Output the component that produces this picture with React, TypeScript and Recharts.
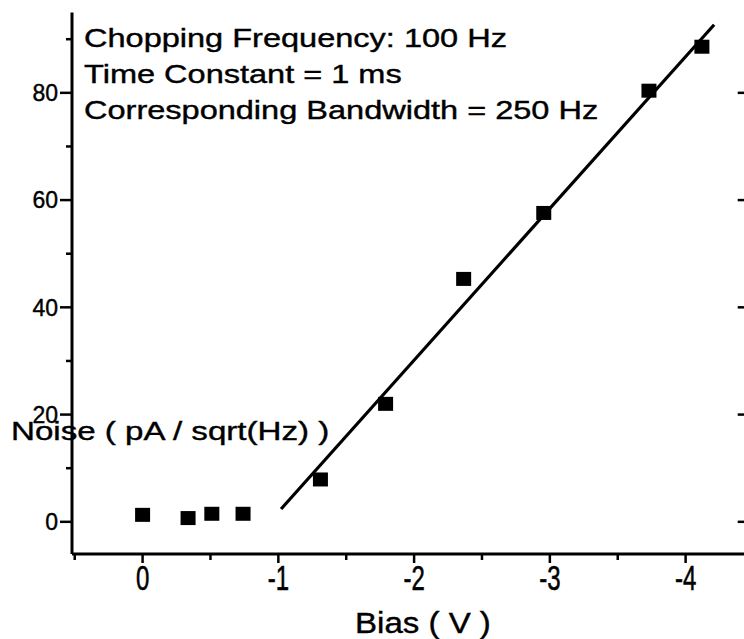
import React from "react";
import { ComposedChart, Scatter, XAxis, YAxis } from "recharts";

// measured points (bias in V, noise in pA/sqrt(Hz))
const bias = [0, -0.335, -0.51, -0.74, -1.31, -1.79, -2.365, -2.955, -3.73, -4.12];
const noise = [1.3, 0.7, 1.5, 1.5, 7.9, 22.0, 45.3, 57.6, 80.4, 88.6];

// linear fit end points
const fitBias = [-1.02, -4.21];
const fitNoise = [2.4, 92.7];

const xMajor = [0, -1, -2, -3, -4];
const xMinor = [0.5, -0.5, -1.5, -2.5, -3.5];
const yMajor = [0, 20, 40, 60, 80];
const yMinor = [10, 30, 50, 70, 90];

const notes = [
  "Chopping Frequency: 100 Hz",
  "Time Constant = 1 ms",
  "Corresponding Bandwidth = 250 Hz",
];
const xTitle = "Bias ( V )";
const yTitle = "Noise ( pA / sqrt(Hz) )";

const FONT = '"Liberation Sans", Arial, Helvetica, sans-serif';
const INK = "#000";

const points = bias.map((b, i) => ({ x: b, y: noise[i] }));
const fit = fitBias.map((b, i) => ({ x: b, y: fitNoise[i] }));

// scanned print looks heavier than a plain regular face
const heavy = { stroke: INK, strokeWidth: 0.4 };

function YTick({ x, y, payload }: any) {
  const major = yMajor.includes(payload.value);
  return (
    <g>
      <line x1={x - (major ? 12 : 6)} x2={x} y1={y} y2={y} stroke={INK} strokeWidth={2.5} />
      {major && (
        <text x={x - 14} y={y + 8.2} textAnchor="end" fontSize={23} fontFamily={FONT} fill={INK} {...heavy}>
          {String(payload.value)}
        </text>
      )}
    </g>
  );
}

function XTick({ x, y, payload }: any) {
  const major = xMajor.includes(payload.value);
  return (
    <g>
      <line x1={x} x2={x} y1={y} y2={y + (major ? 9 : 6)} stroke={INK} strokeWidth={2.5} />
      {major && (
        <text
          transform={`translate(${x},${y + 36}) scale(1,1.45)`}
          textAnchor="middle"
          fontSize={24}
          fontFamily={FONT}
          fill={INK}
          {...heavy}
        >
          {String(payload.value)}
        </text>
      )}
    </g>
  );
}

function Square({ cx, cy }: any) {
  return <rect x={cx - 7.5} y={cy - 7} width={15} height={14} fill={INK} />;
}

export default function App() {
  return (
    <div
      style={{
        position: "absolute",
        left: 0,
        top: 0,
        width: 744,
        height: 639,
        overflow: "hidden",
        background: "#fff",
      }}
    >
      <ComposedChart width={780} height={639} margin={{ top: 12.4, right: 33.3, left: 12, bottom: 45 }}>
        <XAxis
          xAxisId="main"
          dataKey="x"
          type="number"
          domain={[-4.45, 0.52]}
          reversed
          allowDataOverflow
          ticks={[...xMajor, ...xMinor]}
          interval={0}
          tickSize={0}
          tickMargin={0}
          tickLine={false}
          tick={<XTick />}
          axisLine={{ stroke: INK, strokeWidth: 3 }}
          height={40}
        />
        <XAxis
          xAxisId="top"
          orientation="top"
          type="number"
          domain={[-4.45, 0.52]}
          reversed
          allowDataOverflow
          tick={false}
          tickLine={false}
          axisLine={{ stroke: INK, strokeWidth: 3 }}
          height={0}
        />
        <YAxis
          yAxisId="left"
          dataKey="y"
          type="number"
          domain={[-6, 95]}
          allowDataOverflow
          ticks={[...yMajor, ...yMinor]}
          interval={0}
          tickSize={0}
          tickMargin={0}
          tickLine={false}
          tick={<YTick />}
          axisLine={{ stroke: INK, strokeWidth: 3 }}
          width={60}
        />
        <YAxis
          yAxisId="right"
          orientation="right"
          type="number"
          domain={[-6, 95]}
          allowDataOverflow
          ticks={yMajor}
          interval={0}
          mirror
          tickSize={9}
          tickLine={{ stroke: INK, strokeWidth: 2.5 }}
          tickFormatter={() => ""}
          axisLine={{ stroke: INK, strokeWidth: 3 }}
          width={1}
        />
        <Scatter
          xAxisId="main"
          yAxisId="left"
          data={fit}
          line={{ stroke: INK, strokeWidth: 3.2 }}
          shape={() => <g />}
          isAnimationActive={false}
        />
        <Scatter
          xAxisId="main"
          yAxisId="left"
          data={points}
          shape={<Square />}
          isAnimationActive={false}
        />
      </ComposedChart>
      <svg
        width={744}
        height={639}
        style={{ position: "absolute", left: 0, top: 0, pointerEvents: "none" }}
      >
        {notes.map((t, i) => (
          <text
            key={t}
            transform={`translate(84,${47 + i * 36}) scale(1.227,1)`}
            fontSize={26.5}
            fontFamily={FONT}
            fill={INK}
            {...heavy}
          >
            {t}
          </text>
        ))}
        <text transform="translate(11,440) scale(1.25,1)" fontSize={26.5} fontFamily={FONT} fill={INK} {...heavy}>
          {yTitle}
        </text>
        <text transform="translate(355,633) scale(1.14,1)" fontSize={29} fontFamily={FONT} fill={INK} {...heavy}>
          {xTitle}
        </text>
      </svg>
    </div>
  );
}
